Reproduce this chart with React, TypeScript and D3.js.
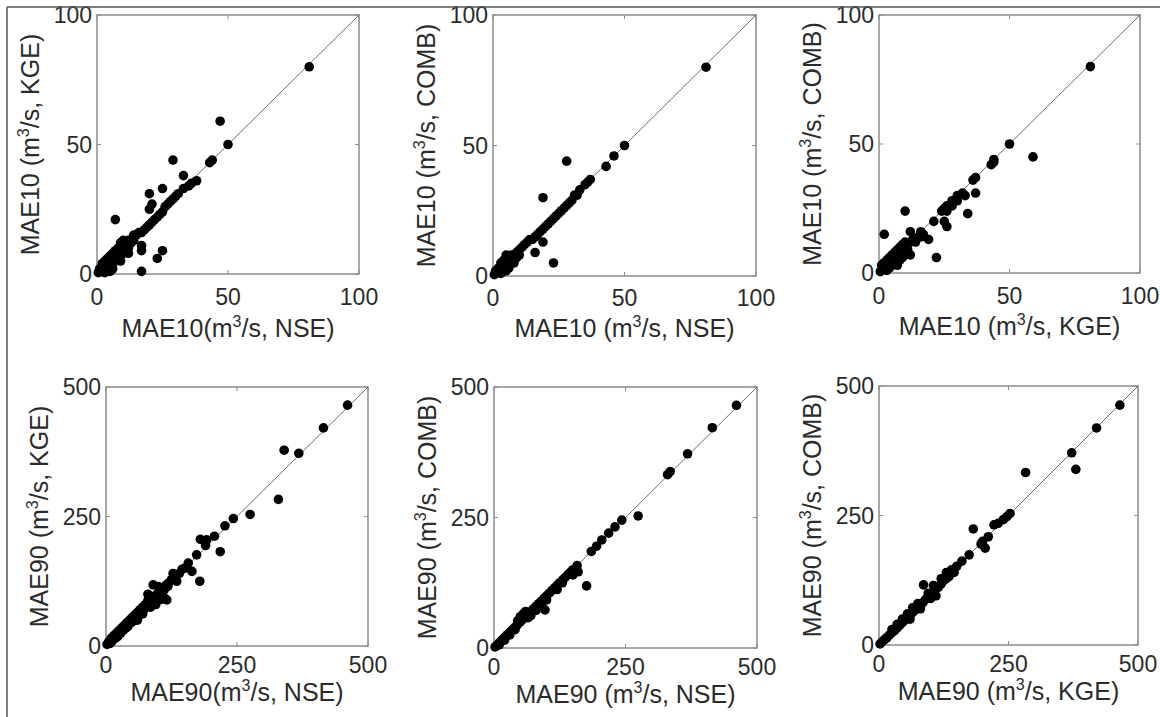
import React from "react";
import * as d3 from "d3";

// ---- Data ----
const mae10NseKge: [number, number][] = [
  [81, 80], [47, 59], [50, 50], [29, 44], [43, 43], [44, 44], [33, 38], [38, 36], [36, 35], [35, 34],
  [33, 33], [31, 31], [30, 30], [28, 28], [27, 27], [26, 26], [25, 24], [29, 29], [25, 33], [20, 31],
  [21, 27], [20, 25], [24, 23], [23, 22], [22, 21], [21, 20], [20, 19], [19, 18], [18, 17], [17, 16],
  [16, 16], [14, 15], [15, 15], [7, 21], [17, 11], [17, 9], [25, 9], [23, 6], [17, 1], [9, 12],
  [11, 10], [10, 11], [9, 9], [8, 10], [8, 8], [7, 7], [7, 9], [6, 6], [6, 8], [5, 5],
  [5, 7], [4, 4], [4, 6], [3, 3], [3, 5], [2, 2], [2, 4], [1, 1], [1, 2], [0.5, 0.5],
  [2, 1], [3, 1], [4, 2], [5, 3], [6, 4], [7, 5], [8, 6], [9, 7], [10, 8], [11, 9],
  [12, 10], [12, 8], [9, 5], [6, 2], [3, 0.5], [5, 1], [13, 12], [12, 13], [10, 13], [11, 12], [14, 13],
];

const mae10NseComb: [number, number][] = [
  [81, 80], [50, 50], [46, 46], [43, 42], [28, 44], [37, 37], [36, 36], [35, 35], [33, 33], [32, 31],
  [31, 31], [30, 29], [29, 28], [28, 27], [27, 26], [26, 25], [25, 24], [24, 23], [23, 22], [22, 21],
  [21, 20], [20, 19], [19, 18], [18, 17], [19, 30], [19, 13], [16, 9], [23, 5], [17, 16], [16, 15],
  [15, 14], [14, 14], [13, 13], [12, 12], [11, 11], [10, 10], [9, 9], [8, 8], [7, 7], [6, 6],
  [5, 5], [4, 4], [3, 3], [2, 2], [1, 1], [0.5, 0.5], [5, 8], [6, 7], [7, 5], [8, 5],
  [4, 6], [3, 5], [6, 3], [5, 2], [9, 7], [10, 8], [2, 3], [3, 1], [1, 2], [4, 2], [7, 8], [8, 6],
];

const mae10KgeComb: [number, number][] = [
  [81, 80], [50, 50], [59, 45], [44, 43], [44, 44], [43, 42], [37, 37], [36, 36], [37, 31], [34, 23],
  [33, 30], [32, 31], [30, 28], [30, 30], [28, 26], [28, 28], [26, 24], [26, 26], [25, 25], [24, 24],
  [21, 20], [25, 20], [26, 18], [10, 24], [2, 15], [12, 16], [17, 15], [16, 14], [16, 16], [19, 13],
  [22, 6], [15, 14], [14, 12], [13, 13], [12, 12], [11, 11], [10, 10], [10, 12], [9, 11], [8, 9],
  [8, 10], [9, 8], [12, 7], [11, 9], [7, 3], [7, 7], [7, 9], [6, 6], [6, 8], [5, 5],
  [5, 7], [4, 4], [4, 6], [3, 3], [3, 5], [2, 2], [2, 4], [1, 1], [1, 3], [0.5, 0.5],
  [3, 1], [5, 3], [6, 4], [8, 5], [9, 6], [10, 7], [4, 2],
];

const mae90NseKge: [number, number][] = [
  [461, 465], [415, 421], [340, 378], [368, 372], [329, 283], [275, 254], [243, 246], [227, 232], [218, 182], [207, 212],
  [192, 205], [180, 206], [190, 194], [173, 176], [179, 125], [157, 160], [150, 150], [164, 144], [145, 148], [140, 140],
  [135, 137], [130, 132], [125, 128], [120, 122], [115, 118], [110, 113], [105, 108], [100, 103], [95, 98], [90, 118],
  [116, 89], [128, 140], [135, 125], [85, 95], [80, 88], [75, 80], [70, 75], [65, 70], [60, 65], [55, 60],
  [50, 55], [45, 50], [40, 45], [35, 40], [30, 35], [25, 30], [20, 25], [15, 20], [10, 15], [5, 8],
  [2, 3], [8, 5], [12, 10], [18, 15], [22, 18], [28, 25], [33, 30], [38, 35], [42, 38], [48, 45],
  [52, 48], [58, 55], [62, 58], [68, 65], [72, 70], [78, 75], [82, 80], [88, 85], [92, 90], [98, 95],
  [102, 100], [108, 105], [112, 110], [118, 115], [70, 62], [85, 75], [95, 80], [105, 90], [60, 50], [100, 115],
  [80, 100], [110, 95],
];

const mae90NseComb: [number, number][] = [
  [461, 465], [415, 422], [368, 372], [335, 338], [330, 332], [274, 253], [243, 245], [230, 232], [218, 220], [205, 207],
  [195, 195], [185, 185], [176, 119], [160, 146], [150, 150], [158, 158], [145, 145], [140, 140], [135, 135], [130, 130],
  [125, 125], [120, 120], [115, 115], [110, 110], [105, 105], [100, 100], [97, 73], [95, 95], [90, 90], [85, 85],
  [80, 80], [75, 75], [70, 70], [65, 65], [60, 60], [55, 55], [50, 50], [45, 45], [40, 40], [35, 35],
  [30, 30], [25, 25], [20, 20], [15, 15], [10, 10], [5, 5], [2, 2], [55, 65], [60, 70], [50, 60],
  [45, 52], [65, 58], [70, 62], [80, 72], [90, 82], [100, 92], [120, 112], [130, 125], [40, 35], [30, 25],
  [20, 15], [10, 6], [150, 140],
];

const mae90KgeComb: [number, number][] = [
  [465, 463], [420, 419], [372, 371], [380, 339], [283, 333], [253, 254], [247, 248], [240, 242], [230, 235], [222, 232],
  [182, 224], [211, 209], [205, 187], [197, 195], [200, 200], [174, 174], [160, 162], [150, 152], [145, 140], [140, 145],
  [135, 132], [130, 128], [125, 125], [120, 118], [115, 112], [110, 108], [105, 102], [100, 98], [95, 92], [86, 116],
  [90, 88], [85, 82], [80, 78], [75, 72], [70, 68], [65, 63], [60, 58], [55, 53], [50, 48], [45, 43],
  [40, 38], [35, 33], [30, 28], [25, 24], [20, 19], [15, 14], [10, 10], [5, 5], [2, 2], [55, 60],
  [65, 72], [75, 80], [95, 100], [100, 90], [110, 95], [120, 128], [130, 140], [45, 50], [35, 40], [25, 30],
  [60, 50], [80, 70], [105, 115],
];

const ticks10 = [0, 50, 100];
const ticks90 = [0, 250, 500];

type Panel = {
  data: [number, number][];
  max: number;
  ticks: number[];
  xPre: string; xPost: string;
  yPre: string; yPost: string;
  box: [number, number, number, number]; // x0, x1, y0, y1
  tickDy: number; labelDy: number;
};

const panels: Panel[] = [
  { data: mae10NseKge, max: 100, ticks: ticks10, xPre: "MAE10(m", xPost: "/s, NSE)", yPre: "MAE10 (m", yPost: "/s, KGE)", box: [97, 359, 15, 274], tickDy: 31, labelDy: 63 },
  { data: mae10NseComb, max: 100, ticks: ticks10, xPre: "MAE10 (m", xPost: "/s, NSE)", yPre: "MAE10 (m", yPost: "/s, COMB)", box: [493, 756, 15, 276], tickDy: 30, labelDy: 61 },
  { data: mae10KgeComb, max: 100, ticks: ticks10, xPre: "MAE10 (m", xPost: "/s, KGE)", yPre: "MAE10 (m", yPost: "/s, COMB)", box: [879, 1140, 15, 273], tickDy: 31, labelDy: 62 },
  { data: mae90NseKge, max: 500, ticks: ticks90, xPre: "MAE90(m", xPost: "/s, NSE)", yPre: "MAE90 (m", yPost: "/s, KGE)", box: [106, 368, 387, 646], tickDy: 27, labelDy: 55 },
  { data: mae90NseComb, max: 500, ticks: ticks90, xPre: "MAE90 (m", xPost: "/s, NSE)", yPre: "MAE90 (m", yPost: "/s, COMB)", box: [494, 757, 387, 648], tickDy: 27, labelDy: 55 },
  { data: mae90KgeComb, max: 500, ticks: ticks90, xPre: "MAE90 (m", xPost: "/s, KGE)", yPre: "MAE90 (m", yPost: "/s, COMB)", box: [879, 1138, 386, 645], tickDy: 27, labelDy: 55 },
];

const FONT = "'Liberation Sans', Arial, sans-serif";
const FS_TICK = 23;
const FS_LABEL = 25;
const TXT = "#2b2b2b";

function Label({ pre, post }: { pre: string; post: string }) {
  return (
    <>
      {pre}
      <tspan dy={-10} fontSize={16}>3</tspan>
      <tspan dy={10}>{post}</tspan>
    </>
  );
}

function ScatterPanel({ p }: { p: Panel }) {
  const [x0, x1, y0, y1] = p.box;
  const x = d3.scaleLinear().domain([0, p.max]).range([x0, x1]);
  const y = d3.scaleLinear().domain([0, p.max]).range([y1, y0]);
  const tl = 4;
  const line = d3.line<[number, number]>().x((d) => x(d[0])).y((d) => y(d[1]));
  return (
    <g>
      <rect x={x0} y={y0} width={x1 - x0} height={y1 - y0} fill="#fff" stroke="#8c8c8c" strokeWidth={1.5} />
      {p.ticks.map((t) => (
        <g key={"t" + t} stroke="#8c8c8c" strokeWidth={1}>
          <line x1={x(t)} x2={x(t)} y1={y1} y2={y1 - tl} />
          <line x1={x(t)} x2={x(t)} y1={y0} y2={y0 + tl} />
          <line x1={x0} x2={x0 + tl} y1={y(t)} y2={y(t)} />
          <line x1={x1} x2={x1 - tl} y1={y(t)} y2={y(t)} />
        </g>
      ))}
      <path d={line([[0, 0], [p.max, p.max]]) || ""} stroke="#6e6e6e" strokeWidth={1} fill="none" />
      {p.data.map((d, i) => (
        <circle key={i} cx={x(d[0])} cy={y(d[1])} r={4.8} fill="#000" />
      ))}
      {p.ticks.map((t) => (
        <text key={"xl" + t} x={x(t)} y={y1 + p.tickDy} textAnchor="middle" fontFamily={FONT} fontSize={FS_TICK} fill={TXT}>
          {t}
        </text>
      ))}
      {p.ticks.map((t) => (
        <text key={"yl" + t} x={x0 - 5} y={y(t) + 8} textAnchor="end" fontFamily={FONT} fontSize={FS_TICK} fill={TXT}>
          {t}
        </text>
      ))}
      <text x={(x0 + x1) / 2} y={y1 + p.labelDy} textAnchor="middle" fontFamily={FONT} fontSize={FS_LABEL} fill={TXT}>
        <Label pre={p.xPre} post={p.xPost} />
      </text>
      <text
        transform={`translate(${x0 - 58},${(y0 + y1) / 2}) rotate(-90)`}
        textAnchor="middle"
        fontFamily={FONT}
        fontSize={FS_LABEL}
        fill={TXT}
      >
        <Label pre={p.yPre} post={p.yPost} />
      </text>
    </g>
  );
}

export default function App() {
  return (
    <svg
      width={1160}
      height={717}
      style={{ position: "absolute", left: 0, top: 0, background: "#fff" }}
    >
      <rect x={0} y={0} width={1160} height={717} fill="#fff" />
      {panels.map((p, i) => (
        <ScatterPanel key={i} p={p} />
      ))}
      <line x1={7} x2={1160} y1={7} y2={7} stroke="#555" strokeWidth={1.5} />
      <line x1={7} x2={7} y1={7} y2={717} stroke="#555" strokeWidth={1.5} />
    </svg>
  );
}
